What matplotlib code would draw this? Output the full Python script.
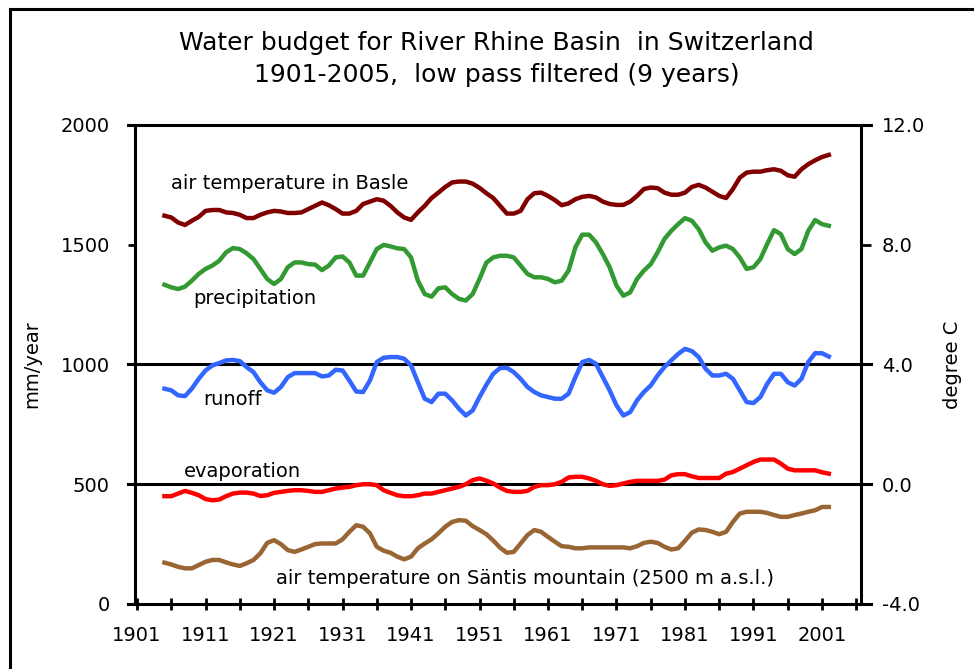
import matplotlib
matplotlib.use("Agg")
import matplotlib.pyplot as plt
from matplotlib.lines import Line2D
from matplotlib.ticker import FormatStrFormatter

plt.rcParams["font.family"] = ["DejaVu Sans"]
plt.rcParams["axes.unicode_minus"] = False

# 9-year low pass filtered series, 1905-2002
years = list(range(1905, 2003))

# air temperature in Basle (degree C, right axis)
temp_basle = [
    8.97, 8.91, 8.74, 8.66, 8.80, 8.93, 9.13, 9.16, 9.16, 9.08,
    9.06, 9.00, 8.89, 8.89, 9.00, 9.08, 9.13, 9.11, 9.06, 9.06,
    9.08, 9.19, 9.30, 9.41, 9.32, 9.19, 9.04, 9.04, 9.13, 9.36,
    9.44, 9.52, 9.47, 9.30, 9.08, 8.91, 8.83, 9.08, 9.30, 9.56,
    9.74, 9.93, 10.08, 10.11, 10.11, 10.04, 9.90, 9.72, 9.56, 9.30,
    9.04, 9.04, 9.13, 9.52, 9.72, 9.74, 9.63, 9.49, 9.32, 9.38,
    9.52, 9.60, 9.63, 9.58, 9.44, 9.36, 9.33, 9.33, 9.44, 9.63,
    9.86, 9.91, 9.89, 9.74, 9.67, 9.67, 9.74, 9.93, 10.00, 9.91,
    9.77, 9.63, 9.56, 9.86, 10.24, 10.41, 10.44, 10.44, 10.49, 10.52,
    10.47, 10.32, 10.27, 10.52, 10.69, 10.82, 10.93, 11.00,
]

# precipitation (mm/year)
precipitation = [
    1333, 1322, 1315, 1325, 1350, 1378, 1399, 1413, 1433, 1468,
    1486, 1482, 1464, 1440, 1399, 1357, 1336, 1357, 1406, 1426,
    1426, 1419, 1417, 1394, 1413, 1447, 1451, 1426, 1371, 1371,
    1426, 1482, 1499, 1493, 1485, 1482, 1447, 1350, 1294, 1283,
    1318, 1322, 1294, 1274, 1267, 1294, 1357, 1425, 1447, 1454,
    1454, 1447, 1413, 1378, 1364, 1364, 1357, 1343, 1350, 1392,
    1489, 1542, 1542, 1510, 1461, 1406, 1329, 1287, 1301, 1357,
    1392, 1419, 1468, 1524, 1558, 1586, 1611, 1600, 1565, 1510,
    1475, 1489, 1496, 1482, 1447, 1399, 1406, 1440, 1503, 1561,
    1544, 1482, 1461, 1482, 1558, 1603, 1586, 1579,
]

# runoff (mm/year)
runoff = [
    899, 892, 871, 868, 899, 940, 975, 996, 1006, 1017,
    1019, 1014, 989, 968, 926, 892, 882, 906, 947, 964,
    964, 964, 964, 950, 954, 978, 975, 933, 887, 885,
    933, 1010, 1028, 1031, 1031, 1024, 996, 926, 857, 843,
    878, 878, 850, 815, 787, 808, 864, 915, 961, 985,
    986, 968, 940, 906, 885, 871, 864, 857, 857, 878,
    947, 1010, 1019, 1003, 947, 892, 829, 787, 801, 850,
    885, 912, 954, 989, 1017, 1044, 1065, 1056, 1031, 982,
    954, 954, 961, 940, 892, 843, 839, 864, 919, 961,
    961, 926, 912, 940, 1010, 1047, 1047, 1033,
]

# evaporation (mm/year)
evaporation = [
    450, 450, 461, 472, 464, 454, 438, 433, 436, 450,
    461, 465, 465, 461, 451, 454, 464, 468, 472, 475,
    475, 472, 468, 468, 475, 482, 486, 489, 496, 500,
    500, 496, 475, 464, 454, 450, 450, 454, 461, 461,
    468, 475, 482, 489, 500, 517, 524, 515, 503, 486,
    472, 468, 468, 472, 489, 496, 496, 500, 510, 528,
    531, 531, 524, 514, 500, 493, 496, 503, 510, 514,
    514, 514, 514, 519, 537, 542, 542, 533, 526, 526,
    526, 526, 544, 551, 565, 579, 593, 603, 603, 603,
    586, 565, 558, 558, 558, 558, 550, 544,
]

# air temperature on Saentis mountain (degree C, right axis)
temp_saentis = [
    -2.62, -2.68, -2.76, -2.81, -2.81, -2.70, -2.59, -2.53, -2.53, -2.61,
    -2.68, -2.73, -2.64, -2.53, -2.31, -1.96, -1.87, -2.00, -2.20, -2.26,
    -2.18, -2.09, -2.00, -1.98, -1.98, -1.98, -1.84, -1.59, -1.37, -1.42,
    -1.64, -2.09, -2.22, -2.29, -2.42, -2.51, -2.42, -2.14, -1.98, -1.84,
    -1.64, -1.42, -1.26, -1.20, -1.22, -1.40, -1.53, -1.67, -1.88, -2.12,
    -2.29, -2.26, -1.98, -1.70, -1.53, -1.59, -1.76, -1.92, -2.07, -2.09,
    -2.14, -2.14, -2.11, -2.11, -2.11, -2.11, -2.11, -2.11, -2.14, -2.07,
    -1.96, -1.92, -1.96, -2.09, -2.18, -2.14, -1.89, -1.62, -1.51, -1.53,
    -1.59, -1.67, -1.59, -1.26, -0.98, -0.92, -0.92, -0.92, -0.96, -1.03,
    -1.09, -1.09, -1.03, -0.98, -0.92, -0.87, -0.76, -0.76,
]

title = "Water budget for River Rhine Basin  in Switzerland\n1901-2005,  low pass filtered (9 years)"
x_ticks = list(range(1901, 2002, 10))
x_minor = list(range(1906, 2007, 10))
mm_ticks = [0, 500, 1000, 1500, 2000]
deg_ticks = [-4, 0, 4, 8, 12]

fig = plt.figure(figsize=(9.74, 6.69), dpi=100)
ax = fig.add_axes([0.1386, 0.0972, 0.7454, 0.716])
ax2 = ax.twinx()

lw = 3.2
ax.plot(years, precipitation, color="#339933", lw=lw, zorder=3)
ax.plot(years, runoff, color="#3366FF", lw=lw, zorder=3)
ax.plot(years, evaporation, color="#FF0000", lw=lw, zorder=3)
ax2.plot(years, temp_basle, color="#800000", lw=lw)
ax2.plot(years, temp_saentis, color="#996633", lw=lw)

ax.set_xlim(1900.7, 2006.7)
ax.set_ylim(0, 2000)
ax2.set_ylim(-4, 12)

# black reference lines, running slightly past the frame like the original
for y in [0, 500, 1000, 2000]:
    ax.axhline(y, xmin=-0.0096, xmax=1.0138, color="black", lw=2.2,
               clip_on=False, zorder=2)

for a in (ax, ax2):
    a.spines["top"].set_visible(False)
    a.spines["bottom"].set_visible(False)
    a.patch.set_visible(False)
ax.spines["left"].set_linewidth(2.2)
ax2.spines["right"].set_linewidth(2.2)
ax2.spines["left"].set_visible(False)
ax.spines["right"].set_visible(False)

ax.set_xticks(x_ticks)
ax.set_xticks(x_minor, minor=True)
ax.tick_params(axis="x", which="both", direction="inout", length=9, width=2,
               labelsize=14, pad=11)
ax.set_yticks(mm_ticks)
ax.tick_params(axis="y", direction="out", length=5, width=2, labelsize=14, pad=13)
ax2.set_yticks(deg_ticks)
ax2.yaxis.set_major_formatter(FormatStrFormatter("%.1f"))
ax2.tick_params(axis="y", direction="out", length=7, width=2, labelsize=14, pad=8)

ax.set_ylabel("mm/year", fontsize=14, labelpad=14)
ax2.set_ylabel("degree C", fontsize=14, labelpad=13)

ax.text(1906.0, 1754, "air temperature in Basle", fontsize=14, va="center")
ax.text(1909.2, 1275, "precipitation", fontsize=14, va="center")
ax.text(1910.6, 854, "runoff", fontsize=14, va="center")
ax.text(1907.9, 554, "evaporation", fontsize=14, va="center")
ax.text(1921.3, 108, "air temperature on S\u00e4ntis mountain (2500 m a.s.l.)",
        fontsize=14, va="center")

fig.text(0.51, 0.912, title, ha="center", va="center", fontsize=18,
         linespacing=1.45)

# partial frame around the figure
fig.add_artist(Line2D([0.0103, 1.0], [0.986, 0.986], color="black", lw=2.2))
fig.add_artist(Line2D([0.0103, 0.0103], [0.0, 0.986], color="black", lw=2.2))

fig.savefig("out.png", dpi=100)
